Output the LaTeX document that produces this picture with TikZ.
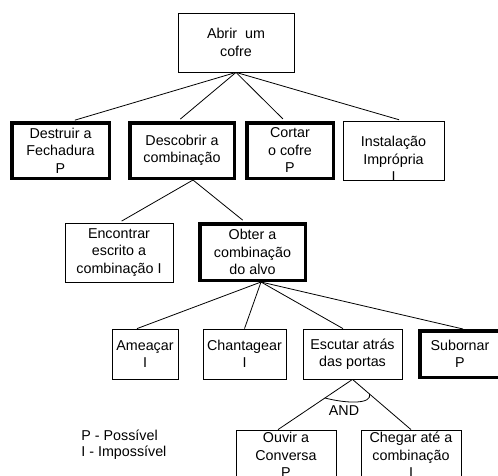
\documentclass[tikz,border=0pt]{standalone}
\usepackage{fontspec}
\setmainfont{Liberation Sans}
\usetikzlibrary{arrows,calc}

\begin{document}
\begin{tikzpicture}[x=1pt,y=-1pt,line width=0.8pt,
  font=\fontsize{14.3}{17.5}\selectfont,
  thin node/.style={draw,align=center,inner sep=0pt,line width=0.8pt},
  bold node/.style={draw,align=center,inner sep=0pt,line width=3.5pt}]

  \useasboundingbox (0,0) rectangle (498,475);
  \clip (0,0) rectangle (498,475);

  \node[thin node,minimum width=116,minimum height=59] (100) at (236,42.5)
    {Abrir~ um\\cofre};

  \node[bold node,minimum width=97.5,minimum height=55.5] (201) at (60.5,150.5)
    {Destruir a\\Fechadura\\P};
  \node[bold node,minimum width=104.5,minimum height=55.5] (202) at (182,150.5)
    {Descobrir a\\combinação};
  \node[bold node,minimum width=86.5,minimum height=55.5] (203) at (290,150.5)
    {Cortar\\o cofre\\P};
  \node[thin node,minimum width=101,minimum height=59] (204) at (393.5,150.5) {};
  \node[align=center,inner sep=0pt] (204 text) at (393.5,159)
    {Instalação\\Imprópria\\I};

  \node[thin node,minimum width=108,minimum height=59] (301) at (119,252.5)
    {Encontrar\\escrito a\\combinação I};
  \node[bold node,minimum width=105.5,minimum height=56.5] (302) at (252.5,252)
    {Obter a\\combinação\\do alvo};

  \node[thin node,minimum width=66,minimum height=50] (401) at (145,354)
    {Ameaçar\\I};
  \node[thin node,minimum width=83,minimum height=50] (402) at (244.5,354)
    {Chantagear\\I};
  \node[thin node,minimum width=99,minimum height=50] (403) at (352.5,354)
    {Escutar atrás\\das portas};
  \node[bold node,minimum width=80.5,minimum height=46.5] (404) at (460,354)
    {Subornar\\P};

  \node[thin node,minimum width=100,minimum height=50] (501) at (286,455)
    {Ouvir a\\Conversa\\P};
  \node[thin node,minimum width=100,minimum height=50] (502) at (411,455)
    {Chegar até a\\combinação\\I};

  \node[anchor=west,align=left,inner sep=0pt,
    font=\fontsize{14.3}{16}\selectfont] (600) at (81,445)
    {P - Possível\\I - Impossível};

  \path[shorten >=3pt]
    (100.south) edge ([xshift=11.5pt]201.north)
    (100.south) edge ([xshift=-4pt]202.north)
    (100.south) edge ([xshift=-5pt]203.north)
    (100.south) edge ([xshift=8.5pt]204.north)
    ([xshift=11pt]202.south) edge (301.north)
    ([xshift=11pt]202.south) edge ([xshift=-7.5pt]302.north);

  \path
    ([xshift=8.5pt]302.south) edge ([xshift=-8pt]401.north)
    ([xshift=8.5pt]302.south) edge (402.north)
    ([xshift=8.5pt]302.south) edge ([xshift=-9.5pt]403.north)
    ([xshift=8.5pt]302.south) edge ([xshift=3pt]404.north)
    (403.south) edge ([xshift=-8pt]501.north)
    (403.south) edge (502.north);

  % AND arc
  \coordinate (and left) at ($(403.south)!0.37!([xshift=-8pt]501.north)$);
  \coordinate (and right) at ($(403.south)!0.29!(502.north)$);
  \draw (and left) .. controls +(23,6) and +(3,10) .. (and right);
  \node[inner sep=0pt] (and) at (344,411) {AND};

\end{tikzpicture}
\end{document}
